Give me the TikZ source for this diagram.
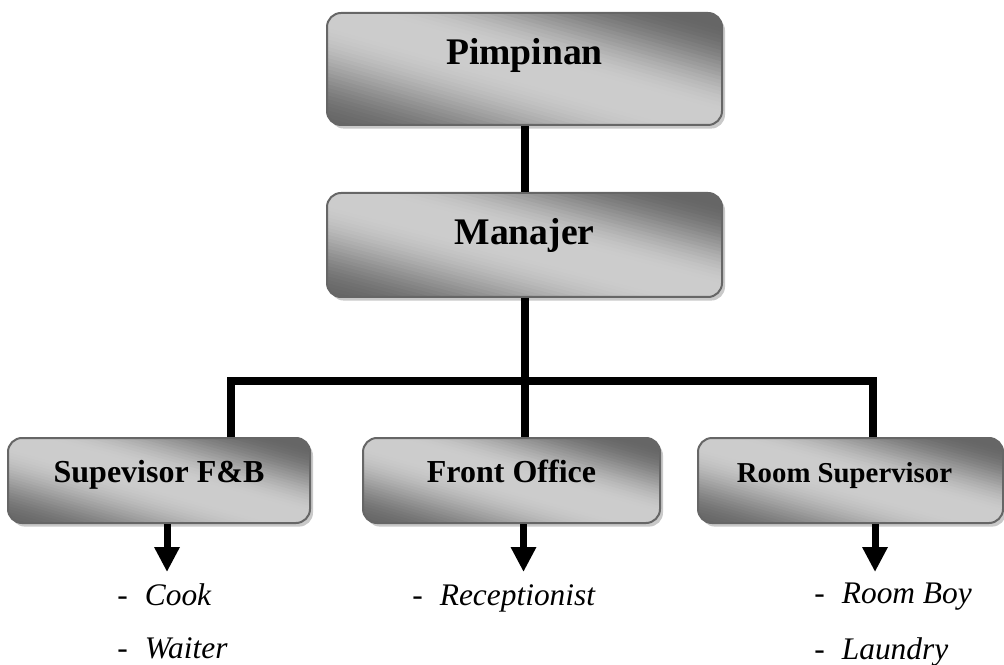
\documentclass[tikz,border=0pt]{standalone}
\usepackage{fontspec}
\setmainfont{Liberation Serif}
\usetikzlibrary{arrows.meta, positioning, shadows}

% diagonal grey shading: dark lower left and upper right corner, light band between
\newcommand\diagshade{%
  \pgfpointdiff{\pgfpointanchor{path picture bounding box}{south west}}%
               {\pgfpointanchor{path picture bounding box}{north east}}%
  \pgfgetlastxy{\bw}{\bh}%
  \coordinate (psw) at (path picture bounding box.south west);
  \foreach \i in {0,...,59}{
    \pgfmathsetmacro\sa{\i/30}
    \pgfmathsetmacro\sb{(\i+1.3)/30}
    \pgfmathsetmacro\sm{(\i+0.5)/30}
    \pgfmathsetmacro\xx{max(min(1,max(0,(0.9-\sm)/0.9)),min(1,max(0,(\sm-1.1)/0.8)))}
    \pgfmathsetmacro\gv{20+40*\xx*\xx*(3-2*\xx)}
    \fill[black!\gv] ([shift={(\sa*\bw+\bw,-\bh)}]psw) -- ([shift={(\sb*\bw+\bw,-\bh)}]psw)
      -- ([shift={(\sb*\bw-3*\bw,3*\bh)}]psw) -- ([shift={(\sa*\bw-3*\bw,3*\bh)}]psw) -- cycle;
  }}

\begin{document}
\begin{tikzpicture}[
  x=5pt, y=5pt,
  every node/.style={align=center},
  blk/.style={draw=black!60, line width=1pt, rounded corners=7pt,
              path picture={\diagshade}, inner ysep=0pt,
              minimum width=197.5pt, text height=26pt, text depth=30pt,
              font=\fontsize{18.8}{20}\selectfont\bfseries,
              drop shadow={shadow xshift=1.5pt, shadow yshift=-1.8pt,
                           fill=black!30, opacity=.7}},
  sub/.style={blk, text height=22pt, text depth=20.5pt,
              font=\fontsize{16}{18}\selectfont\bfseries},
  conn/.style={line width=4pt, black},
  arr/.style={line width=3.5pt, -{Triangle[width=12pt, length=12.5pt]}},
  item/.style={anchor=base west, inner sep=0pt,
               font=\fontsize{15.7}{18}\selectfont}
]
\useasboundingbox (0,0) rectangle (100.4,66.4);

\node[blk] (pim) at (52.45,59.5) {Pimpinan};
\node[blk, text depth=26pt] (man) at (52.45,41.9) {Manajer};
\node[sub, minimum width=151pt]   (fb) at (15.9,18.35) {Supevisor F\&B};
\node[sub, minimum width=148.5pt] (fo) at (51.15,18.35) {Front Office};
\node[sub, minimum width=152.5pt,
      font=\fontsize{14.4}{16}\selectfont\bfseries] (rs) at (85.05,18.35) {Room Supervisor\hspace{6pt}};

\node[item] (cook)   at (11.7,5.9) {-\hspace{8.5pt}\textit{Cook}};
\node[item] (waiter) at (11.7,0.6) {-\hspace{8.5pt}\textit{Waiter}};
\node[item] (recep)  at (41.2,5.9) {-\hspace{8.5pt}\textit{Receptionist}};
\node[item] (rboy)   at (81.4,6.1) {-\hspace{8.5pt}\textit{Room Boy}};
\node[item] (laun)   at (81.4,0.5) {-\hspace{8.5pt}\textit{Laundry}};

\coordinate (jl) at (23.1,28.3);
\coordinate (jr) at (87.3,28.3);
\coordinate (fbtip) at (16.7,9.2);
\coordinate (fotip) at (52.35,9.2);
\coordinate (rstip) at (87.5,9.2);

\draw[conn] (pim) -- (man);
\draw[conn] (man.south) -- (man.south |- fo.north);
\draw[conn] (jl |- fb.north) -- (jl) -- (jr) -- (jr |- rs.north);

\draw[arr] (fbtip |- fb.south) -- (fbtip);
\draw[arr] (fotip |- fo.south) -- (fotip);
\draw[arr] (rstip |- rs.south) -- (rstip);
\end{tikzpicture}
\end{document}
